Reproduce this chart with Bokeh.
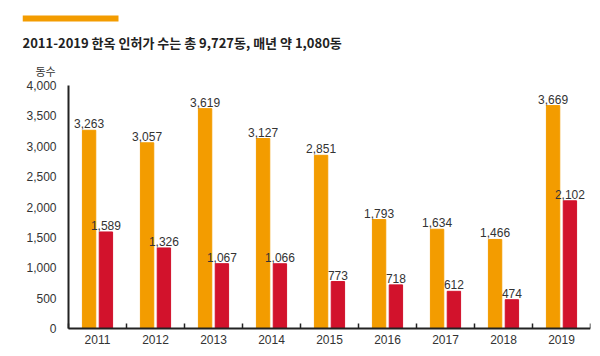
from bokeh.plotting import figure
from bokeh.models import Range1d, FixedTicker, ColumnDataSource
from bokeh.core.properties import value
from bokeh.embed import file_html
from bokeh.resources import INLINE

years = ["2011", "2012", "2013", "2014", "2015", "2016", "2017", "2018", "2019"]
permits = [3263, 3057, 3619, 3127, 2851, 1793, 1634, 1466, 3669]
completions = [1589, 1326, 1067, 1066, 773, 718, 612, 474, 2102]
y_ticks = [0, 500, 1000, 1500, 2000, 2500, 3000, 3500, 4000]
title_text = "2011-2019 한옥 인허가 수는 총 9,727동, 매년 약 1,080동"
unit_text = "동수"

ORANGE = "#F39C00"
RED = "#D2122C"
TXT = "#333333"
NUMFONT = "Liberation Sans"
KRFONT = "Noto Sans CJK KR"

# layout geometry (canvas px)
W, H = 600, 356
AX_LEFT, AX_RIGHT, AX_TOP, AX_BOTTOM = 68, 590, 85, 328
FRAME_LEFT = 22
YMAX = 4000
n = len(years)
px_x = (AX_RIGHT - AX_LEFT) / n          # px per category
px_y = (AX_BOTTOM - AX_TOP) / YMAX       # px per unit


def dx(px):
    return (px - AX_LEFT) / px_x


def dy(py):
    return (AX_BOTTOM - py) / px_y


centers = [i + 0.5 for i in range(n)]
off = 0.145
bw = 0.23

src = ColumnDataSource(dict(
    xo=[c - off for c in centers], xr=[c + off for c in centers],
    po=permits, cr=completions,
    pl=[f"{v:,}" for v in permits], cl=[f"{v:,}" for v in completions],
))

p = figure(width=W, height=H, output_backend="svg", toolbar_location=None,
           x_range=Range1d(dx(FRAME_LEFT), n), y_range=Range1d(dy(H), dy(0)),
           min_border_left=FRAME_LEFT, min_border_right=W - AX_RIGHT,
           min_border_top=0, min_border_bottom=0)
p.outline_line_color = None
p.xgrid.grid_line_color = None
p.ygrid.grid_line_color = None
p.background_fill_color = "white"
p.border_fill_color = "white"

# header: accent strip, title, unit
p.quad(left=[dx(22)], right=[dx(118)], top=[dy(15)], bottom=[dy(21)], color=ORANGE, line_color=None)
p.text(x=[dx(22)], y=[dy(42)], text=[title_text], text_font=value(KRFONT), text_font_size="13px",
       text_color="#222222", text_baseline="middle", text_align="left", text_font_style="bold")
p.text(x=[dx(35)], y=[dy(70)], text=[unit_text], text_font=value(KRFONT), text_font_size="11px",
       text_color=TXT, text_baseline="middle", text_align="left")

# bars
p.vbar(x="xo", top="po", width=bw, bottom=0, color=ORANGE, source=src)
p.vbar(x="xr", top="cr", width=bw, bottom=0, color=RED, source=src)

p.text(x="xo", y="po", text="pl", source=src, text_align="center", text_baseline="bottom",
       y_offset=-2, text_font=value(NUMFONT), text_font_size="12px", text_color=TXT)
p.text(x="xr", y="cr", text="cl", source=src, text_align="center", text_baseline="bottom",
       y_offset=-2, text_font=value(NUMFONT), text_font_size="12px", text_color=TXT)

xa = p.xaxis[0]
xa.fixed_location = 0
xa.bounds = (0, n)
xa.ticker = FixedTicker(ticks=centers, minor_ticks=list(range(n + 1)))
xa.major_label_overrides = {c: y for c, y in zip(centers, years)}
xa.major_tick_in = 0
xa.major_tick_out = 0
xa.minor_tick_in = 5
xa.minor_tick_out = 0
xa.minor_tick_line_color = "#222222"
xa.minor_tick_line_width = 1.5
xa.axis_line_color = "#222222"
xa.axis_line_width = 2
xa.major_label_text_font = NUMFONT
xa.major_label_text_font_size = "12px"
xa.major_label_text_color = TXT
xa.major_label_standoff = 6

ya = p.yaxis[0]
ya.fixed_location = 0
ya.bounds = (0, YMAX)
ya.ticker = FixedTicker(ticks=y_ticks)
ya.major_label_overrides = {t: f"{t:,}" for t in y_ticks}
ya.major_tick_in = 0
ya.major_tick_out = 0
ya.minor_tick_line_color = None
ya.axis_line_color = "#222222"
ya.axis_line_width = 2
ya.major_label_text_font = NUMFONT
ya.major_label_text_font_size = "12px"
ya.major_label_text_color = TXT
ya.major_label_standoff = 12

open("out.html", "w").write(file_html(p, INLINE))
